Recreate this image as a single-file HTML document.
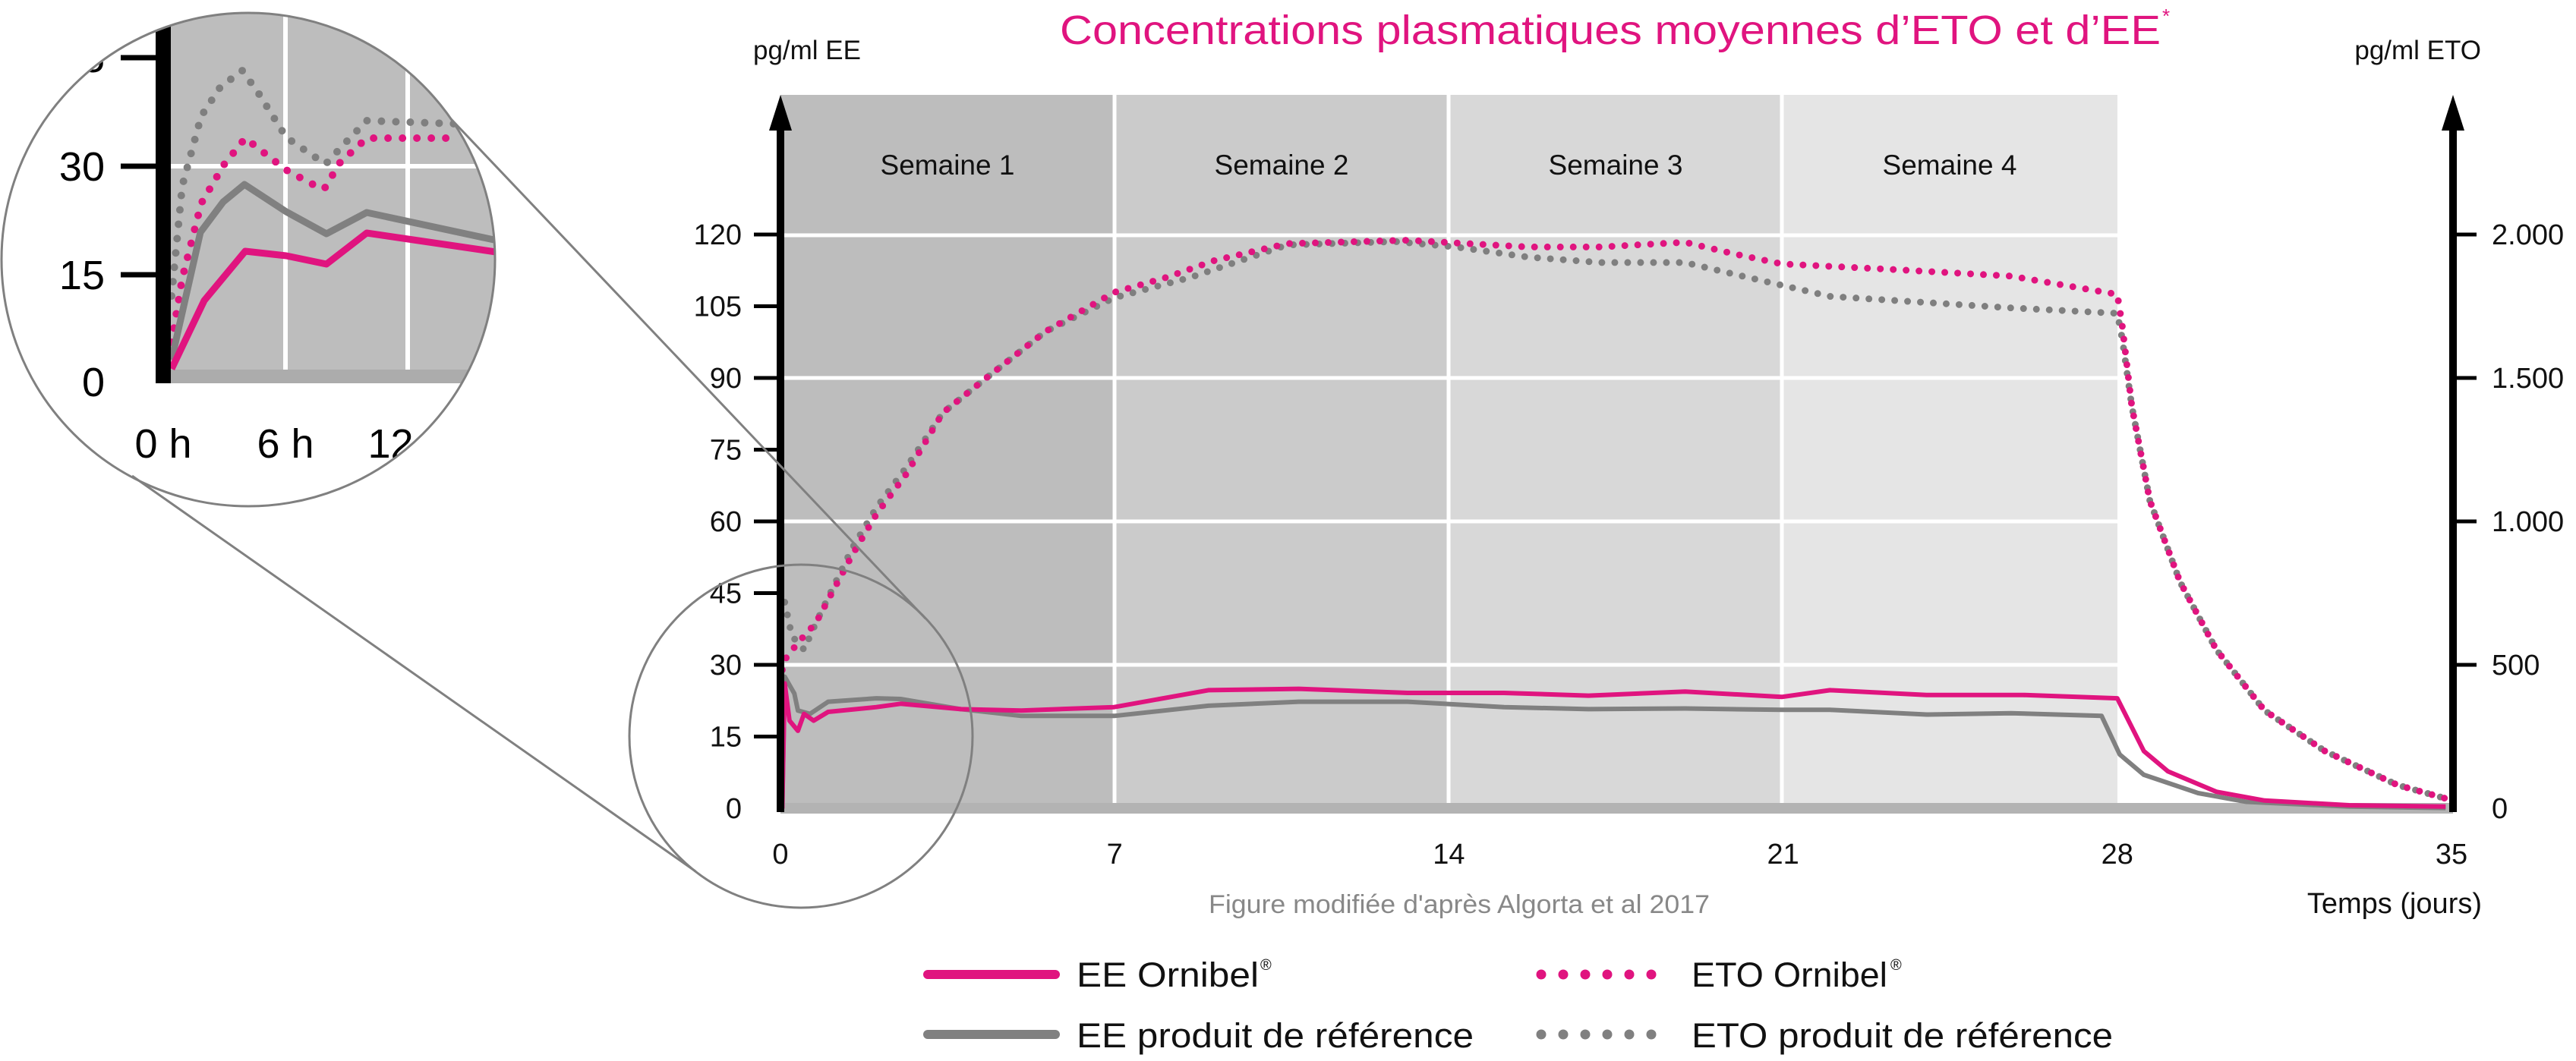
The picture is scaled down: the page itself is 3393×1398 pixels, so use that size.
<!DOCTYPE html>
<html><head><meta charset="utf-8"><style>
html,body{margin:0;padding:0;background:#fff;}
svg{display:block;}
text{font-family:"Liberation Sans",sans-serif;}
</style></head><body>
<svg id="s" width="3393" height="1398" viewBox="0 0 3393 1398" xmlns="http://www.w3.org/2000/svg">
<defs>
<clipPath id="cc"><circle cx="327" cy="342" r="324"/></clipPath>
</defs>
<!-- main plot background -->
<rect x="1028" y="125" width="440" height="940" fill="#bdbdbd"/>
<rect x="1468" y="125" width="440" height="940" fill="#cbcbcb"/>
<rect x="1908" y="125" width="439" height="940" fill="#d8d8d8"/>
<rect x="2347" y="125" width="442" height="940" fill="#e5e5e5"/>
<g stroke="#fff" stroke-width="5">
<line x1="1028" y1="310" x2="2789" y2="310"/><line x1="1028" y1="498" x2="2789" y2="498"/>
<line x1="1028" y1="687" x2="2789" y2="687"/><line x1="1028" y1="876" x2="2789" y2="876"/>
<line x1="1468" y1="125" x2="1468" y2="1065"/><line x1="1908" y1="125" x2="1908" y2="1065"/><line x1="2347" y1="125" x2="2347" y2="1065"/>
</g>
<rect x="1028" y="1058" width="2203" height="14" fill="#b3b3b3"/>
<g font-size="37" text-anchor="middle" fill="#111">
<text x="1248" y="230">Semaine 1</text><text x="1688" y="230">Semaine 2</text>
<text x="2128" y="230">Semaine 3</text><text x="2568" y="230">Semaine 4</text>
</g>
<g id="main"></g>
<!-- axes -->
<rect x="1023" y="150" width="10" height="920" fill="#000"/>
<polygon points="1028,125 1013,172 1043,172" fill="#000"/>
<rect x="3226" y="150" width="10" height="920" fill="#000"/>
<polygon points="3231,125 3216,172 3246,172" fill="#000"/>
<g id="ticks" stroke="#000" stroke-width="5"></g>
<g id="tl" font-size="38" fill="#111"></g>
<text x="992" y="78" font-size="35" fill="#111">pg/ml EE</text>
<text x="3268" y="78" font-size="35" fill="#111" text-anchor="end">pg/ml ETO</text>
<text x="1396" y="58" font-size="54" fill="#e0147f" textLength="1450" lengthAdjust="spacingAndGlyphs">Concentrations plasmatiques moyennes d’ETO et d’EE</text>
<text x="2848" y="30" font-size="26" fill="#e0147f">*</text>
<text x="1592" y="1203" font-size="34" fill="#888" textLength="660" lengthAdjust="spacingAndGlyphs">Figure modifiée d'après Algorta et al 2017</text>
<text x="3269" y="1203" font-size="38" fill="#111" text-anchor="end">Temps (jours)</text>
<!-- legend -->
<line x1="1222" y1="1284" x2="1390" y2="1284" stroke="#e0147f" stroke-width="12" stroke-linecap="round"/>
<line x1="1222" y1="1363" x2="1390" y2="1363" stroke="#808080" stroke-width="12" stroke-linecap="round"/>
<line x1="2030" y1="1284" x2="2204" y2="1284" stroke="#e0147f" stroke-width="13" stroke-linecap="round" stroke-dasharray="0 29"/>
<line x1="2030" y1="1363" x2="2204" y2="1363" stroke="#808080" stroke-width="13" stroke-linecap="round" stroke-dasharray="0 29"/>
<g font-size="45" fill="#111">
<text x="1418" y="1300" textLength="240" lengthAdjust="spacingAndGlyphs">EE Ornibel</text><text x="1660" y="1278" font-size="20">®</text>
<text x="1418" y="1380" textLength="523" lengthAdjust="spacingAndGlyphs">EE produit de référence</text>
<text x="2228" y="1300" textLength="258" lengthAdjust="spacingAndGlyphs">ETO Ornibel</text><text x="2490" y="1278" font-size="20">®</text>
<text x="2228" y="1380" textLength="555" lengthAdjust="spacingAndGlyphs">ETO produit de référence</text>
</g>
<!-- zoom connector -->
<line x1="174" y1="627" x2="916" y2="1148" stroke="#808080" stroke-width="3"/>
<line x1="580" y1="142" x2="1219" y2="815" stroke="#808080" stroke-width="3"/>
<circle cx="1055" cy="970" r="226" fill="none" stroke="#808080" stroke-width="3"/>
<!-- inset -->
<g clip-path="url(#cc)">
<rect x="215" y="0" width="500" height="505" fill="#bdbdbd"/>
<rect x="215" y="487" width="500" height="18" fill="#acacac"/>
<g stroke="#fff" stroke-width="6">
<line x1="225" y1="219" x2="700" y2="219"/>
<line x1="376" y1="0" x2="376" y2="487"/><line x1="537" y1="0" x2="537" y2="487"/>
</g>
<g id="inset"></g>
<rect x="205" y="0" width="20" height="505" fill="#000"/>
<g stroke="#000" stroke-width="7">
<line x1="159" y1="76" x2="205" y2="76"/><line x1="159" y1="219" x2="205" y2="219"/><line x1="159" y1="362" x2="205" y2="362"/>
</g>
<g font-size="54" fill="#000" text-anchor="end">
<text x="138" y="238">30</text><text x="138" y="381">15</text><text x="138" y="522">0</text><text x="138" y="95">45</text>
</g>
<g font-size="54" fill="#000" text-anchor="middle">
<text x="215" y="603">0 h</text><text x="376" y="603">6 h</text><text x="537" y="603">12 h</text>
</g>
</g>
<circle cx="327" cy="342" r="325" fill="none" stroke="#808080" stroke-width="3"/>
</svg>
<script>
var NS="http://www.w3.org/2000/svg";
function el(p,t,a){var e=document.createElementNS(NS,t);for(var k in a)e.setAttribute(k,a[k]);p.appendChild(e);return e;}
function conv(a){return a.map(function(p){return (900+p[0]*1.5899).toFixed(1)+","+(p[1]*0.8916).toFixed(1)}).join(" ");}
var m=document.getElementById("main");
var etoP=[[82,990],[84,975],[95,950],[110,920],[125,870],[140,820],[160,760],[185,700],[215,610],[250,560],[300,490],[357,432],[400,410],[440,385],[500,360],[600,355],[650,360],[700,365],[760,365],[830,358],[870,375],[910,390],[1000,398],[1100,408],[1188,435],[1192,480],[1200,600],[1215,740],[1240,860],[1270,960],[1310,1050],[1360,1110],[1420,1160],[1460,1180]];
var etoG=[[84,890],[90,940],[100,960],[110,920],[125,865],[140,810],[160,750],[185,690],[215,610],[250,560],[300,490],[357,440],[420,410],[500,362],[590,357],[640,365],[700,380],[760,388],[830,388],[870,405],[950,438],[1100,455],[1188,463],[1192,500],[1200,600],[1215,740],[1240,860],[1270,960],[1310,1050],[1360,1110],[1420,1160],[1460,1180]];
var eeP=[[82,1195],[84,1010],[88,1065],[95,1080],[100,1055],[108,1065],[120,1052],[160,1045],[180,1040],[230,1048],[280,1050],[357,1045],[435,1020],[510,1018],[600,1024],[680,1024],[750,1028],[830,1022],[910,1030],[950,1020],[1030,1027],[1110,1027],[1188,1032],[1210,1110],[1230,1140],[1270,1170],[1310,1183],[1380,1190],[1460,1192]];
var eeG=[[82,1195],[84,1000],[92,1025],[95,1050],[105,1055],[120,1037],[160,1032],[180,1033],[230,1048],[280,1058],[357,1058],[435,1043],[510,1037],[600,1037],[680,1045],[750,1048],[830,1047],[910,1049],[950,1049],[1030,1056],[1100,1054],[1175,1058],[1190,1115],[1210,1145],[1255,1172],[1295,1185],[1380,1192],[1460,1194]];
el(m,"polyline",{points:conv(etoG),fill:"none",stroke:"#7f7f7f","stroke-width":9,"stroke-linecap":"round","stroke-dasharray":"0 17"});
el(m,"polyline",{points:conv(etoP),fill:"none",stroke:"#e0147f","stroke-width":9,"stroke-linecap":"round","stroke-dasharray":"0 17"});
el(m,"polyline",{points:conv(eeG),fill:"none",stroke:"#808080","stroke-width":6,"stroke-linejoin":"round"});
el(m,"polyline",{points:conv(eeP),fill:"none",stroke:"#e0147f","stroke-width":6,"stroke-linejoin":"round"});
var ins=document.getElementById("inset");
function pj(a){return a.map(function(p){return p.join(",")}).join(" ");}
el(ins,"polyline",{points:pj([[226,390],[240,245],[265,153],[290,115],[319,93],[340,122],[377,181],[412,205],[429,216],[456,187],[483,159],[597,163],[700,170]]),fill:"none",stroke:"#7f7f7f","stroke-width":10,"stroke-linecap":"round","stroke-dasharray":"0 19"});
el(ins,"polyline",{points:pj([[226,451],[240,367],[265,268],[295,217],[323,182],[377,224],[410,242],[427,249],[448,214],[483,182],[605,182]]),fill:"none",stroke:"#e0147f","stroke-width":10,"stroke-linecap":"round","stroke-dasharray":"0 19"});
el(ins,"polyline",{points:pj([[226,474],[264,306],[294,266],[322,243],[377,279],[430,308],[483,280],[660,318]]),fill:"none",stroke:"#808080","stroke-width":9,"stroke-linejoin":"round"});
el(ins,"polyline",{points:pj([[226,486],[269,396],[323,331],[377,337],[430,348],[483,307],[660,333]]),fill:"none",stroke:"#e0147f","stroke-width":9,"stroke-linejoin":"round"});
var tk=document.getElementById("ticks"),tl=document.getElementById("tl");
for(var i=0;i<=8;i++){var y=1065-i*94.5;
 if(i>0)el(tk,"line",{x1:993,y1:y,x2:1024,y2:y});
 var t=el(tl,"text",{x:977,y:y+13,"text-anchor":"end"});t.textContent=String(i*15);}
var r=["0","500","1.000","1.500","2.000"];
for(var i=0;i<5;i++){var y=1065-i*189;
 if(i>0)el(tk,"line",{x1:3231,y1:y,x2:3262,y2:y});
 var t=el(tl,"text",{x:3282,y:y+13});t.textContent=r[i];}
for(var i=0;i<=5;i++){var x=1028+i*440.2;var t=el(tl,"text",{x:x,y:1138,"text-anchor":"middle"});t.textContent=String(i*7);}
</script>
</body></html>
